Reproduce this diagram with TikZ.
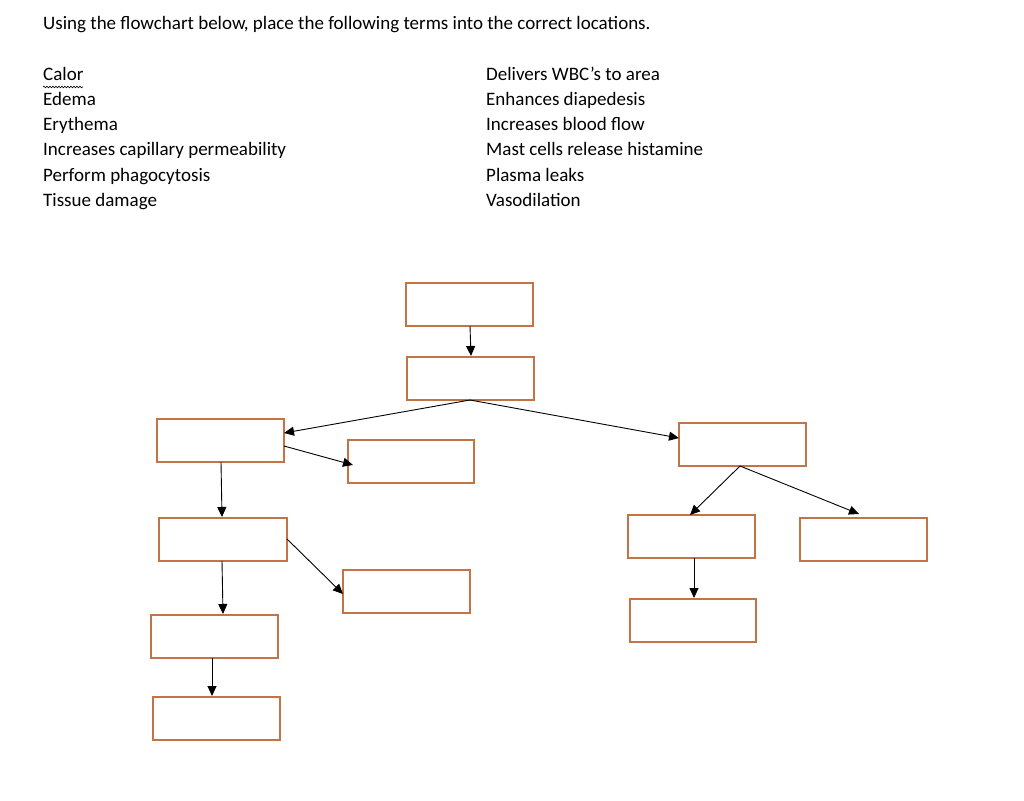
\documentclass[tikz,border=0pt]{standalone}
\usepackage{fontspec}
\setmainfont{Carlito}
\usetikzlibrary{arrows.meta,decorations.pathmorphing}
\definecolor{boxc}{RGB}{196,116,68}
\begin{document}
\begin{tikzpicture}[x=1pt,y=-1pt,
  bx/.style={draw=boxc,line width=1.3pt},
  txt/.style={anchor=base west,inner sep=0pt,font=\fontsize{19}{21}\selectfont},
  ar/.style={-{Triangle[length=10pt,width=9pt]},line width=0.9pt}]
\useasboundingbox (0,0) rectangle (1024,800);
\node[txt] (t0) at (43,30) {Using the flowchart below, place the following terms into the correct locations.};
\foreach \i/\a/\b in {0/Calor/Delivers WBC’s to area,1/Edema/Enhances diapedesis,2/Erythema/Increases blood flow,3/Increases capillary permeability/Mast cells release histamine,4/Perform phagocytosis/Plasma leaks,5/Tissue damage/Vasodilation}{
  \node[txt] (l\i) at (43,80+25.3*\i) {\a};
  \node[txt] (r\i) at (486,80+25.3*\i) {\b};
}
\draw[decorate,decoration={snake,amplitude=0.8pt,segment length=3pt},line width=0.6pt] (43,87) -- (83,87);
\draw[bx] (406,283) rectangle (533,326) coordinate (B1);
\draw[bx] (407,357) rectangle (534,400) coordinate (B2);
\draw[bx] (157,419) rectangle (284,462) coordinate (B3);
\draw[bx] (348,440) rectangle (474,483) coordinate (B4);
\draw[bx] (679,423) rectangle (806,466) coordinate (B5);
\draw[bx] (159,518) rectangle (287,561) coordinate (B6);
\draw[bx] (343,570) rectangle (470,613) coordinate (B7);
\draw[bx] (628,515) rectangle (755,558) coordinate (B8);
\draw[bx] (800,518) rectangle (927,561) coordinate (B9);
\draw[bx] (151,615) rectangle (278,658) coordinate (B10);
\draw[bx] (630,599) rectangle (756,642) coordinate (B11);
\draw[bx] (153,697) rectangle (280,740) coordinate (B12);
\coordinate (a1) at (470,326); \coordinate (a2) at (471,356);
\coordinate (s) at (470,400); \coordinate (s1) at (284,433); \coordinate (s2) at (679,438);
\coordinate (c1) at (284,446); \coordinate (c2) at (353,465);
\coordinate (d1) at (221,462); \coordinate (d2) at (222,517);
\coordinate (e1) at (287,539); \coordinate (e2) at (343,594);
\coordinate (f1) at (222,561); \coordinate (f2) at (223,614);
\coordinate (g1) at (212,658); \coordinate (g2) at (212,696);
\coordinate (h) at (740,466); \coordinate (h1) at (690,515); \coordinate (h2) at (859,514);
\coordinate (k1) at (694,558); \coordinate (k2) at (694,598);
\draw[ar] (a1)--(a2);
\draw[ar] (s)--(s1);
\draw[ar] (s)--(s2);
\draw[ar] (c1)--(c2);
\draw[ar] (d1)--(d2);
\draw[ar] (e1)--(e2);
\draw[ar] (f1)--(f2);
\draw[ar] (g1)--(g2);
\draw[ar] (h)--(h1);
\draw[ar] (h)--(h2);
\draw[ar] (k1)--(k2);
\end{tikzpicture}
\end{document}
